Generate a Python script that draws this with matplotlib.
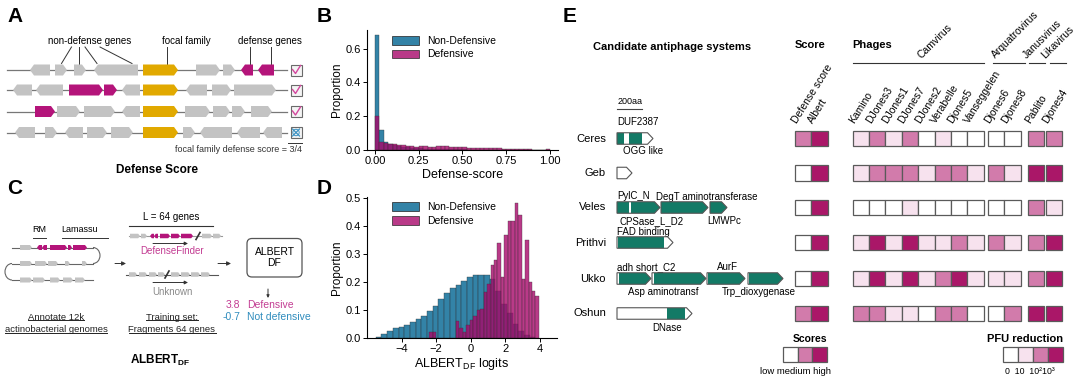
import numpy as np
import matplotlib
matplotlib.use('Agg')
import matplotlib.pyplot as plt
from matplotlib.patches import Polygon, Rectangle, FancyBboxPatch, Arc, Patch
from matplotlib import font_manager as fm

plt.rcParams['font.family'] = ['Liberation Sans', 'DejaVu Sans']
plt.rcParams['mathtext.fontset'] = 'custom'
plt.rcParams['mathtext.rm'] = 'Liberation Sans'
plt.rcParams['mathtext.bf'] = 'Liberation Sans:bold'

installed = {f.name for f in fm.fontManager.ttflist}
NARROW = 'Liberation Sans Narrow' if 'Liberation Sans Narrow' in installed else 'Liberation Sans'

# ---------------- data ----------------
# B: defense score histogram, bins of 0.025 on [0, 1]
score_edges = np.linspace(0, 1, 41)
score_nondef = [0.68, 0.12, 0.05, 0.035, 0.028, 0.022, 0.018, 0.015, 0.012, 0.010,
                0.009, 0.008, 0.007, 0.006, 0.005, 0.005, 0.004, 0.004, 0.003, 0.003,
                0.003, 0.002, 0.002, 0.002, 0.002, 0.002, 0.001, 0.001, 0.001, 0.001,
                0.001, 0.001, 0.001, 0.001, 0.001, 0.001, 0.001, 0.001, 0.001, 0.001]
score_def = [0.20, 0.045, 0.040, 0.035, 0.033, 0.030, 0.028, 0.025, 0.022, 0.020,
             0.026, 0.022, 0.018, 0.020, 0.026, 0.023, 0.021, 0.018, 0.020, 0.018,
             0.015, 0.014, 0.012, 0.010, 0.013, 0.010, 0.009, 0.012, 0.010, 0.007,
             0.006, 0.005, 0.004, 0.004, 0.003, 0.003, 0.002, 0.002, 0.002, 0.003]

# D: ALBERT_DF logits histograms
logit_nondef_x = [-5.33, -5.0, -4.67, -4.34, -4.01, -3.68, -3.35, -3.02, -2.69, -2.36,
                  -2.03, -1.7, -1.37, -1.04, -0.71, -0.38, -0.05, 0.28, 0.61, 0.94,
                  1.27, 1.6, 1.93, 2.26, 2.59, 2.92, 3.25, 3.58]
logit_nondef = [0.005, 0.014, 0.026, 0.035, 0.040, 0.048, 0.057, 0.068, 0.080, 0.097,
                0.115, 0.140, 0.160, 0.180, 0.190, 0.205, 0.220, 0.225, 0.227, 0.225,
                0.210, 0.170, 0.120, 0.090, 0.050, 0.025, 0.010, 0.005]
logit_def_x = [-2.3, -2.1, -0.75, -0.55, -0.35, -0.15, 0.05, 0.25, 0.45, 0.65, 0.85,
               1.05, 1.25, 1.45, 1.65, 1.85, 2.05, 2.25, 2.45, 2.65, 2.85, 3.05,
               3.25, 3.45, 3.65, 3.85]
logit_def = [0.02, 0.02, 0.062, 0.035, 0.022, 0.045, 0.065, 0.08, 0.10, 0.105, 0.165,
             0.195, 0.26, 0.28, 0.34, 0.22, 0.37, 0.42, 0.42, 0.485, 0.44, 0.21,
             0.35, 0.20, 0.17, 0.15]

# E: heatmap
systems = ['Ceres', 'Geb', 'Veles', 'Prithvi', 'Ukko', 'Oshun']
score_cols = ['Defense score', 'Albert']
scores = [[2, 3], [0, 3], [0, 3], [0, 3], [0, 3], [2, 3]]
phages = ['Kamino', 'DJones3', 'DJones1', 'DJones7', 'DJones2', 'Verabelle', 'Djones5',
          'Vanseggelen', 'Djones6', 'Djones8', 'Pablito', 'Djones4']
genera = ['Camvirus', 'Arquatrovirus', 'Janusvirus', 'Likavirus']
genus_size = [8, 2, 1, 1]
pfu = [[1, 2, 1, 2, 0, 1, 0, 0, 0, 0, 2, 2],
       [1, 2, 2, 2, 1, 2, 2, 1, 2, 1, 3, 3],
       [0, 0, 0, 1, 0, 0, 0, 0, 0, 0, 2, 1],
       [1, 3, 1, 3, 1, 1, 2, 1, 2, 1, 2, 3],
       [1, 3, 1, 3, 1, 2, 3, 1, 1, 1, 2, 3],
       [2, 2, 1, 1, 0, 2, 2, 0, 0, 2, 3, 3]]
pfu_labels = ['0', '10', '10²', '10³']
score_labels = ['low', 'medium', 'high']

# E: gene diagrams (start, end in aa-pixels, protein domains)
e_genes = {
    'Ceres':   [(617, 653, [(617, 624), (629, 642)])],
    'Geb':     [(617, 632, [])],
    'Veles':   [(617, 660, [(617, 629), (631, 660)]), (661, 708, [(661, 708)]),
                (710, 727, [(710, 727)])],
    'Prithvi': [(617, 673, [(618, 664)])],
    'Ukko':    [(617, 651, [(619, 651)]), (652, 706, [(654, 706)]),
                (707, 745, [(708, 745)]), (748, 783, [(749, 783)])],
    'Oshun':   [(617, 692, [(667, 685)])],
}
e_domain_labels = [('DUF2387', 617, 122), ('OGG like', 623, 151), ('PylC_N', 617, 196),
                   ('DegT aminotransferase', 656, 197), ('CPSase_L_D2', 620, 221),
                   ('LMWPc', 707, 221), ('FAD binding', 617, 232), ('adh short_C2', 617, 267),
                   ('AurF', 717, 267), ('Asp aminotransf', 628, 292),
                   ('Trp_dioxygenase', 722, 292), ('DNase', 652, 328)]

# A: neighbourhoods (start, end, direction, kind) g=other f=focal d=defense
a_rows = [
    [(30, 50, 'L', 'g'), (55, 67, 'R', 'g'), (74, 86, 'R', 'g'), (94, 138, 'L', 'g'),
     (143, 178, 'R', 'f'), (196, 220, 'R', 'g'), (223, 235, 'R', 'g'), (241, 253, 'L', 'd'),
     (258, 274, 'L', 'd')],
    [(13, 32, 'L', 'g'), (36, 63, 'L', 'g'), (69, 103, 'R', 'd'), (104, 117, 'R', 'd'),
     (122, 140, 'L', 'g'), (143, 178, 'R', 'f'), (186, 207, 'L', 'g'), (212, 231, 'R', 'g'),
     (234, 276, 'R', 'g')],
    [(35, 55, 'R', 'd'), (57, 80, 'R', 'g'), (84, 115, 'R', 'g'), (122, 140, 'L', 'g'),
     (143, 178, 'R', 'f'), (185, 210, 'R', 'g'), (213, 230, 'R', 'g'), (232, 245, 'R', 'g'),
     (251, 272, 'R', 'g')],
    [(15, 35, 'L', 'g'), (45, 57, 'R', 'g'), (65, 83, 'L', 'g'), (87, 107, 'R', 'g'),
     (111, 133, 'R', 'g'), (143, 178, 'R', 'f'), (183, 195, 'R', 'g'), (200, 232, 'L', 'g'),
     (237, 260, 'L', 'g'), (263, 282, 'L', 'g')],
]
a_defended = [True, True, True, False]

# C: contig snake and fragments
c_snake = [
    [(20, 32, 'R', 'g'), (37, 42, 'L', 'd'), (42, 47, 'L', 'd'), (50, 67, 'R', 'd'),
     (68, 72, 'R', 'd'), (73, 87, 'R', 'd')],
    [(20, 32, 'R', 'g'), (35, 47, 'R', 'g'), (48, 58, 'R', 'g'), (65, 70, 'R', 'g'),
     (82, 87, 'R', 'g')],
    [(20, 32, 'R', 'g'), (33, 45, 'R', 'g'), (50, 60, 'R', 'g'), (63, 73, 'R', 'g'),
     (75, 85, 'R', 'g')],
]
c_frag_def = [(130, 140, 'R', 'g'), (141, 147, 'R', 'g'), (150, 154, 'L', 'd'),
              (154, 158, 'L', 'd'), (160, 170, 'R', 'd'), (171, 180, 'R', 'd'),
              (181, 193, 'R', 'd'), (202, 212, 'R', 'g'), (213, 221, 'R', 'g')]
c_frag_unk = [(129, 137, 'R', 'g'), (139, 147, 'R', 'g'), (149, 157, 'R', 'g'),
              (158, 165, 'R', 'g'), (171, 180, 'R', 'g'), (181, 190, 'R', 'g'),
              (191, 200, 'R', 'g'), (201, 210, 'R', 'g')]

# ---------------- styles ----------------
GRAY = '#c3c3c3'
GOLD = '#e1a900'
MAG = '#b4147a'
TEAL = '#137a66'
BLUE_H = '#0f6d98'
PINK_H = '#a8086a'
LEVELS = ['#ffffff', '#f7e2ee', '#d27bab', '#aa1768']
KIND = {'g': GRAY, 'f': GOLD, 'd': MAG}

fig = plt.figure(figsize=(10.8, 3.83), dpi=100)
ax0 = fig.add_axes([0, 0, 1, 1])
ax0.set_xlim(0, 1080)
ax0.set_ylim(383, 0)
ax0.axis('off')


def gene(ax, x0, x1, y, h, d, fc, ec='none', lw=0.4, head=4.0, z=3):
    head = min(head, (x1 - x0) * 0.45)
    t, b = y - h / 2, y + h / 2
    if d == 'R':
        pts = [(x0, t), (x1 - head, t), (x1, y), (x1 - head, b), (x0, b)]
    else:
        pts = [(x1, t), (x0 + head, t), (x0, y), (x0 + head, b), (x1, b)]
    p = Polygon(pts, closed=True, fc=fc, ec=ec, lw=lw, zorder=z)
    ax.add_patch(p)
    return p


def panel_letter(x, y, s):
    ax0.text(x, y, s, fontsize=15, fontweight='bold', family=NARROW, va='center', ha='left')


def arrow(x0, y0, x1, y1, ms=6):
    ax0.annotate('', xy=(x1, y1), xytext=(x0, y0),
                 arrowprops=dict(arrowstyle='-|>', lw=0.7, color='#333333',
                                 mutation_scale=ms, shrinkA=0, shrinkB=0))


# ---------------- A ----------------
panel_letter(7, 17, 'A')
a_y = [70, 90, 111.5, 132.5]
for row, y, ok in zip(a_rows, a_y, a_defended):
    ax0.plot([7, 287], [y, y], color='#777777', lw=0.9, zorder=2)
    for x0, x1, d, k in row:
        gene(ax0, x0, x1, y, 11, d, KIND[k])
    ax0.add_patch(Rectangle((290.5, y - 5.5), 11, 11, fc='#f4f4f4', ec='#6a6a6a', lw=0.8, zorder=3))
    if ok:
        ax0.plot([292.5, 295.5, 300.5], [y - 0.5, y + 3.5, y - 4.5], color='#d4479e', lw=1.0, zorder=4)
    else:
        ax0.plot([292.5, 299.5], [y - 3.5, y + 3.5], color='#3c93c4', lw=0.9, zorder=4)
        ax0.plot([292.5, 299.5], [y + 3.5, y - 3.5], color='#3c93c4', lw=0.9, zorder=4)
        ax0.add_patch(plt.Circle((296, y), 3.2, fc='none', ec='#3c93c4', lw=0.7, zorder=4))

ax0.text(90, 41.5, 'non-defense genes', fontsize=7, ha='center', va='center')
ax0.text(186.5, 41.5, 'focal family', fontsize=7, ha='center', va='center')
ax0.text(270, 41.5, 'defense genes', fontsize=7, ha='center', va='center')
for (xa, xb) in [(71.5, 61.5), (79, 79), (85, 97), (100, 132)]:
    ax0.plot([xa, xb], [47, 63.5], color='#333333', lw=0.7)
ax0.plot([166.5, 166.5], [47, 63.5], color='#333333', lw=0.7)
for xx in (250, 270.5):
    ax0.plot([xx, xx], [47, 65], color='#333333', lw=0.7)
ax0.plot([288, 302], [142.5, 142.5], color='#333333', lw=0.7)
ax0.text(302, 150, 'focal family defense score = 3/4', fontsize=6.5, ha='right', va='center',
         family=NARROW, color='#333333')
ax0.text(157, 170, 'Defense Score', fontsize=8.5, fontweight='bold', ha='center', va='center')

# ---------------- C ----------------
panel_letter(7, 188, 'C')
ax0.text(39, 229, 'RM', fontsize=6.5, ha='center', va='center')
ax0.plot([33, 46], [237.5, 237.5], color='#333333', lw=0.7)
ax0.text(80, 229, 'Lamassu', fontsize=6.5, ha='center', va='center')
ax0.plot([62, 108], [237.5, 237.5], color='#333333', lw=0.7)
snake_y = [247.5, 263.5, 280]
for row, y in zip(c_snake, snake_y):
    ax0.plot([12, 93], [y, y], color='#666666', lw=0.8, zorder=2)
    for x0, x1, d, k in row:
        gene(ax0, x0, x1, y, 5, d, KIND[k], head=2)
ax0.add_patch(Arc((93, 255.5), 14, 16, theta1=-90, theta2=90, color='#666666', lw=0.8))
ax0.add_patch(Arc((12, 271.75), 14, 16.5, theta1=90, theta2=270, color='#666666', lw=0.8))

arrow(115, 263.5, 126, 263.5)
arrow(218, 263.5, 231, 263.5)

ax0.text(171, 216.5, 'L = 64 genes', fontsize=7, ha='center', va='center')
ax0.plot([129, 213], [226, 226], color='#333333', lw=0.8)
ax0.plot([129, 222], [236, 236], color='#999999', lw=0.8, zorder=2)
for x0, x1, d, k in c_frag_def:
    gene(ax0, x0, x1, 236, 4.5, d, KIND[k], head=1.8)
ax0.plot([196, 200], [239.5, 232.5], color='#333333', lw=1.2, zorder=4)
ax0.plot([126, 218], [274.5, 274.5], color='#555555', lw=0.8, zorder=2)
for x0, x1, d, k in c_frag_unk:
    gene(ax0, x0, x1, 274.5, 4.5, d, KIND[k], head=1.8)
ax0.plot([165, 169], [278, 271], color='#333333', lw=1.2, zorder=4)
arrow(153, 243.5, 188, 243.5, ms=5)
arrow(153, 282.5, 188, 282.5, ms=5)
ax0.text(172, 250.5, 'DefenseFinder', fontsize=7, ha='center', va='center', color='#c33d93')
ax0.text(172, 292, 'Unknown', fontsize=7, ha='center', va='center', color='#8a8a8a')

ax0.add_patch(FancyBboxPatch((247, 238.5), 55, 38.5, boxstyle='round,pad=0,rounding_size=5',
                             fc='white', ec='#555555', lw=0.9))
ax0.text(274.5, 257.5, 'ALBERT\nDF', fontsize=7.5, ha='center', va='center', linespacing=1.05)
arrow(268, 289, 268, 298, ms=4)
ax0.text(240, 304.5, '3.8', fontsize=7.5, ha='right', va='center', color='#c33d93')
ax0.text(247, 304.5, 'Defensive', fontsize=7.5, ha='left', va='center', color='#c33d93')
ax0.text(240, 317.5, '-0.7', fontsize=7.5, ha='right', va='center', color='#2f8cbd')
ax0.text(247, 317.5, 'Not defensive', fontsize=7.5, ha='left', va='center', color='#2f8cbd')

under = []
for s, x, y in [('Annotate 12k', 56, 317), ('actinobacterial genomes', 56, 330),
                ('Training set:', 172, 317), ('Fragments 64 genes', 172, 330)]:
    under.append(ax0.text(x, y, s, fontsize=6.8, ha='center', va='center', color='#222222'))
ax0.text(160, 360, r'ALBERT$_{\mathbf{DF}}$', fontsize=8.5, fontweight='bold', ha='center',
         va='center')

# ---------------- B ----------------
panel_letter(317, 17, 'B')
axB = fig.add_axes([367 / 1080, (383 - 150) / 383, 191 / 1080, 120 / 383])
axB.patch.set_alpha(0)
w = np.diff(score_edges)
axB.bar(score_edges[:-1], score_nondef, width=w, align='edge', color=BLUE_H, alpha=0.85,
        edgecolor='#333333', lw=0.3)
axB.bar(score_edges[:-1], score_def, width=w, align='edge', color=PINK_H, alpha=0.8,
        edgecolor='#333333', lw=0.3)
axB.set_xlim(-0.046, 1.046)
axB.set_ylim(0, 0.71)
axB.set_xticks([0, 0.25, 0.5, 0.75, 1.0])
axB.set_xticklabels(['0.00', '0.25', '0.50', '0.75', '1.00'])
axB.set_yticks([0, 0.2, 0.4, 0.6])
axB.set_xlabel('Defense-score', fontsize=9, labelpad=2)
axB.set_ylabel('Proportion', fontsize=8.5, labelpad=2)

# ---------------- D ----------------
panel_letter(317, 188, 'D')
axD = fig.add_axes([367 / 1080, (383 - 338) / 383, 190 / 1080, 141 / 383])
axD.patch.set_alpha(0)
axD.bar(logit_nondef_x, logit_nondef, width=0.33, color=BLUE_H, alpha=0.85,
        edgecolor='#333333', lw=0.3)
axD.bar(logit_def_x, logit_def, width=0.2, color=PINK_H, alpha=0.8,
        edgecolor='#333333', lw=0.3)
axD.set_xlim(-6, 5)
axD.set_ylim(0, 0.505)
axD.set_xticks([-4, -2, 0, 2, 4])
axD.set_xticklabels(['\u22124', '\u22122', '0', '2', '4'])
axD.set_yticks([0, 0.1, 0.2, 0.3, 0.4, 0.5])
axD.set_xlabel(r'ALBERT$_{\mathrm{DF}}$ logits', fontsize=9, labelpad=1)
axD.set_ylabel('Proportion', fontsize=8.5, labelpad=2)

for ax in (axB, axD):
    for sp in ('top', 'right'):
        ax.spines[sp].set_visible(False)
    for sp in ('left', 'bottom'):
        ax.spines[sp].set_linewidth(0.8)
    ax.tick_params(labelsize=8, length=3, width=0.7, pad=1.5)
    ax.yaxis.set_major_formatter(matplotlib.ticker.FormatStrFormatter('%.1f'))
    ax.legend(handles=[Patch(fc=BLUE_H, ec='#222222', alpha=0.85, lw=0.6, label='Non-Defensive'),
                       Patch(fc=PINK_H, ec='#222222', alpha=0.8, lw=0.6, label='Defensive')],
              loc='upper left', bbox_to_anchor=(0.08, 1.03), frameon=False, fontsize=7.5,
              handlelength=2.6, handleheight=0.9, labelspacing=0.35, handletextpad=0.8)

# ---------------- E ----------------
panel_letter(563, 17, 'E')
ax0.text(672, 47, 'Candidate antiphage systems', fontsize=8, fontweight='bold', ha='center',
         va='center')
ax0.plot([617, 642], [109, 109], color='#444444', lw=0.8)
ax0.text(618, 101, '200aa', fontsize=6.5, ha='left', va='center', family=NARROW)

row_y = [138.5, 173, 207.5, 242.5, 278.5, 313.5]
for name, y in zip(systems, row_y):
    ax0.text(606, y, name, fontsize=8, ha='right', va='center')
    for x0, x1, doms in e_genes[name]:
        outline = gene(ax0, x0, x1, y, 11.5, 'R', 'white', head=5.5, z=3)
        for a, b in doms:
            r = Rectangle((a, y - 6), b - a, 12, fc=TEAL, ec='none', zorder=4)
            ax0.add_patch(r)
            r.set_clip_path(outline)
        gene(ax0, x0, x1, y, 11.5, 'R', 'none', ec='#555555', lw=0.8, head=5.5, z=5)
for s, x, y in e_domain_labels:
    ax0.text(x, y, s, fontsize=7, ha='left', va='center')

# heatmap
cw, ch = 16.4, 15.5
score_x = [795, 795 + cw]
group_x = [852.5, 988, 1028, 1046]
col_x = [gx + i * cw for gx, n in zip(group_x, genus_size) for i in range(n)]


def cell(x, y, lev):
    ax0.add_patch(Rectangle((x, y - ch / 2), cw, ch, fc=LEVELS[lev], ec='#5a5a5a', lw=0.9,
                            zorder=4))


for r, y in enumerate(row_y):
    for c, x in enumerate(score_x):
        cell(x, y, scores[r][c])
    for c, x in enumerate(col_x):
        cell(x, y, pfu[r][c])

ax0.text(795, 45, 'Score', fontsize=8, fontweight='bold', ha='left', va='center')
ax0.text(852.5, 45, 'Phages', fontsize=8, fontweight='bold', ha='left', va='center')
for lab, x in zip(score_cols + phages, score_x + col_x):
    ax0.text(x + 3.5, 125, lab, fontsize=7.5, rotation=58, ha='left', va='bottom',
             rotation_mode='anchor', family=NARROW)

genus_lines = [(852.5, 984), (993, 1025), (1029, 1045), (1050, 1066)]
genus_lab_x = [923, 997, 1028, 1047]
for lab, (xa, xb), lx in zip(genera, genus_lines, genus_lab_x):
    ax0.plot([xa, xb], [63, 63], color='#333333', lw=0.8)
    ax0.text(lx, 60, lab, fontsize=7.5, rotation=45, ha='left', va='bottom',
             rotation_mode='anchor', family=NARROW)

# legends
lw_ = 14.7
ax0.text(827, 339, 'Scores', fontsize=7.5, fontweight='bold', ha='right', va='center')
for i, lev in enumerate([0, 2, 3]):
    ax0.add_patch(Rectangle((783 + i * lw_, 347), lw_, 15, fc=LEVELS[lev], ec='#5a5a5a', lw=0.9))
ax0.text(795, 371, ' '.join(score_labels), fontsize=6.8, ha='center', va='center')

ax0.text(1063, 339, 'PFU reduction', fontsize=8, fontweight='bold', ha='right', va='center')
for i in range(4):
    ax0.add_patch(Rectangle((1003 + i * 15, 347), 15, 15, fc=LEVELS[i], ec='#5a5a5a', lw=0.9))
ax0.text(1005, 371, pfu_labels[0] + '  ' + pfu_labels[1] + '  ' + pfu_labels[2] + pfu_labels[3],
         fontsize=6.3, ha='left', va='center')

# underline the C captions
fig.canvas.draw()
rend = fig.canvas.get_renderer()
inv = ax0.transData.inverted()
for t in under:
    bb = t.get_window_extent(rend).transformed(inv)
    yb = max(bb.y0, bb.y1) - 1.8
    ax0.plot([bb.x0, bb.x1], [yb, yb], color='#222222', lw=0.7)

fig.savefig('out.png', dpi=100)
